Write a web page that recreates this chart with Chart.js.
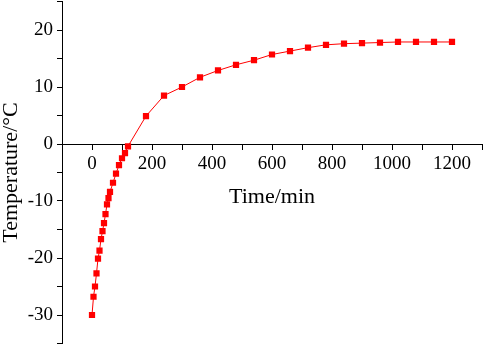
<!DOCTYPE html>
<html>
<head>
<meta charset="utf-8">
<script src="https://cdn.jsdelivr.net/npm/chart.js@4"></script>
<style>
  html, body { margin: 0; padding: 0; background: #fff; }
  #wrap { width: 484px; height: 345px; }
</style>
</head>
<body>
<div id="wrap"><canvas id="tempChart" width="484" height="345"></canvas></div>
<script>
// time (min) and temperature (°C)
const times = [0, 5, 10, 15, 20, 25, 30, 35, 40, 45, 50, 55, 60, 70, 80, 90, 100, 110, 120,
               180, 240, 300, 360, 420, 480, 540, 600, 660, 720, 780, 840, 900, 960, 1020, 1080, 1140, 1200];
const temps = [-30, -26.8, -25.0, -22.7, -20.1, -18.7, -16.7, -15.3, -13.9, -12.3, -10.6, -9.5, -8.4, -6.8, -5.2, -3.7, -2.5, -1.6, -0.4,
               4.9, 8.5, 10.0, 11.7, 12.9, 13.9, 14.7, 15.7, 16.3, 16.9, 17.4, 17.6, 17.7, 17.8, 17.9, 17.9, 17.9, 17.9];

// axis ranges and labelled ticks
const xRange = [-100, 1300];
const yRange = [-35, 25];
const xLabels = [0, 200, 400, 600, 800, 1000, 1200];
const yLabels = [-30, -20, -10, 0, 10, 20];

const serif = 'Liberation Serif, Times New Roman, serif';

document.addEventListener('DOMContentLoaded', function() {
    const ctx = document.getElementById('tempChart').getContext('2d');

    const points = times.map(function(t, i) { return { x: t, y: temps[i] }; });

    new Chart(ctx, {
        type: 'scatter',
        data: {
            datasets: [{
                data: points,
                showLine: true,
                borderColor: '#ff0000',
                backgroundColor: '#ff0000',
                borderWidth: 1,
                tension: 0,
                pointStyle: 'rect',
                pointRadius: 4.4,
                pointBorderWidth: 0,
                pointBackgroundColor: '#ff0000'
            }]
        },
        options: {
            responsive: false,
            animation: false,
            layout: {
                autoPadding: false,
                padding: { top: 1.5, right: 2, bottom: 1.5, left: 0 }
            },
            plugins: {
                legend: { display: false },
                tooltip: { enabled: false }
            },
            scales: {
                x: {
                    type: 'linear',
                    position: { y: 0 },
                    min: xRange[0],
                    max: xRange[1],
                    grid: {
                        drawOnChartArea: false,
                        drawTicks: true,
                        tickLength: 5,
                        color: '#000'
                    },
                    border: { display: true, color: '#000', width: 1 },
                    ticks: {
                        stepSize: 100,
                        autoSkip: false,
                        maxRotation: 0,
                        minRotation: 0,
                        padding: 4,
                        color: '#000',
                        font: { family: serif, size: 19 },
                        callback: function(v) { return xLabels.includes(v) ? String(v) : ''; }
                    },
                    title: {
                        display: true,
                        text: 'Time/min',
                        color: '#000',
                        font: { family: serif, size: 22, lineHeight: 1 },
                        padding: { top: 0, bottom: 0 }
                    },
                    afterFit: function(scale) {
                        scale.height = 64;
                        scale.paddingLeft = 0;
                        scale.paddingRight = 0;
                    }
                },
                y: {
                    type: 'linear',
                    position: 'left',
                    min: yRange[0],
                    max: yRange[1],
                    grid: {
                        drawOnChartArea: false,
                        drawTicks: true,
                        tickLength: 5,
                        color: '#000'
                    },
                    border: { display: true, color: '#000', width: 1 },
                    ticks: {
                        stepSize: 5,
                        autoSkip: false,
                        padding: 4,
                        color: '#000',
                        font: { family: serif, size: 19 },
                        callback: function(v) { return yLabels.includes(v) ? String(v) : ''; }
                    },
                    title: {
                        display: true,
                        text: 'Temperature/\u00b0C',
                        color: '#000',
                        font: { family: serif, size: 22, lineHeight: 1 },
                        padding: { top: 0, bottom: 0 }
                    },
                    afterFit: function(scale) {
                        scale.width = 62;
                        scale.paddingTop = 0;
                        scale.paddingBottom = 0;
                    }
                }
            }
        }
    });
});
</script>
</body>
</html>
